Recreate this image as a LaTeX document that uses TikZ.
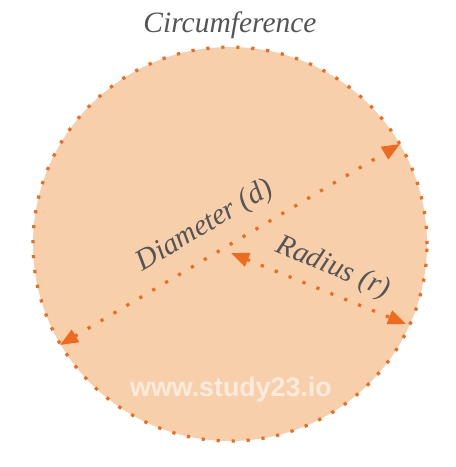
\documentclass[tikz,border=0pt]{standalone}
\usepackage{fontspec}
\setmainfont{Liberation Serif}
\newfontfamily\wmfont{Liberation Sans}
\usetikzlibrary{arrows.meta}
\definecolor{fillc}{HTML}{F8CFAB}
\definecolor{dotc}{HTML}{EE6A1F}
\definecolor{txtc}{HTML}{555555}
\tikzset{
  dotline/.style={draw=dotc, line width=3.2pt, dash pattern=on 3.2pt off 11.8pt},
  lbl/.style={text=txtc, font=\itshape\fontsize{29.5}{34}\selectfont, inner sep=0pt},
}
\begin{document}
\begin{tikzpicture}[x=1pt,y=-1pt]
\useasboundingbox (0,0) rectangle (456,467);
\node[circle, minimum size=394pt, inner sep=0pt, fill=fillc, dotline] (c) at (230,244) {};
\node[lbl] (circ) at (230,25) {Circumference};
\coordinate (d1) at (60,345);
\coordinate (d2) at (400,144);
\coordinate (r1) at (231,253);
\coordinate (r2) at (406,324);
\draw[dotline, {Triangle[length=18pt,width=14pt]}-{Triangle[length=18pt,width=14pt]}] (d1) -- (d2);
\draw[dotline, {Triangle[length=18pt,width=14pt]}-{Triangle[length=18pt,width=14pt]}] (r1) -- (r2);
\node[lbl, rotate=30.6] (dl) at (205,226) {Diameter (d)};
\node[lbl, rotate=-23] (rl) at (333,268) {Radius (r)};
\node[text=white, text opacity=0.6, font=\wmfont\bfseries\fontsize{26.8}{30}\selectfont, inner sep=0pt] (wm) at (231,390) {www.study23.io};
\end{tikzpicture}
\end{document}
